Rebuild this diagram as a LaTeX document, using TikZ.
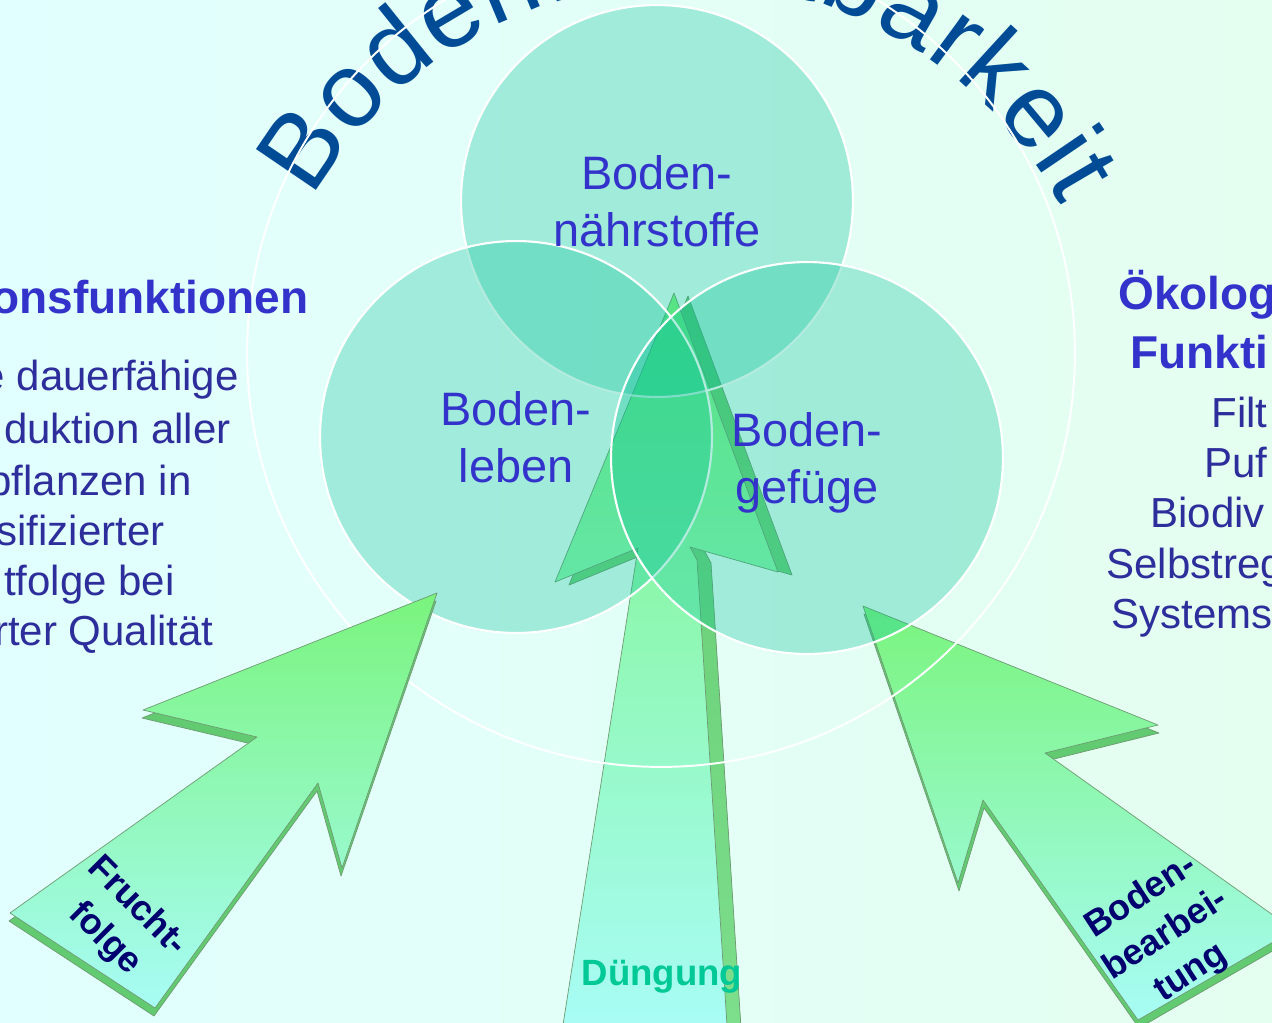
\documentclass[tikz,border=0pt]{standalone}
\usepackage{fontspec}
\setmainfont{Liberation Sans}
\usepackage{xcolor}
\usepackage{tikz}
\usetikzlibrary{shapes,arrows,positioning,calc,decorations.text}

\definecolor{bgcyan}{RGB}{225,255,254}
\definecolor{bggreen}{RGB}{228,255,240}
\definecolor{mint}{RGB}{8,192,150}
\definecolor{labelblue}{RGB}{51,51,204}
\definecolor{bodyblue}{RGB}{45,45,155}
\definecolor{titleblue}{RGB}{0,75,150}
\definecolor{arrowgreen}{RGB}{122,244,125}
\definecolor{arrowmid}{RGB}{140,246,165}
\definecolor{arrowcyan}{RGB}{168,252,245}
\definecolor{rimgreen}{RGB}{98,202,112}
\definecolor{rimlight}{RGB}{125,222,140}
\definecolor{edgegray}{RGB}{110,155,115}
\definecolor{arrowtext}{RGB}{0,0,110}
\definecolor{duengung}{RGB}{0,200,150}

\begin{document}
\begin{tikzpicture}[
	x=0.02cm, y=0.02cm,
	soilcircle/.style={circle, draw=white, line width=1.2pt, fill=mint, fill opacity=0.3, minimum size=7.84cm, inner sep=0pt},
	ring/.style={circle, draw=white, line width=1.1pt, minimum size=16.56cm, inner sep=0pt},
	circlelabel/.style={text=labelblue, align=center, font=\fontsize{26.7}{32.4}\selectfont},
	headtext/.style={text=labelblue, inner sep=0pt, font=\bfseries\fontsize{26.2}{31}\selectfont},
	bodytext/.style={text=bodyblue, inner sep=0pt, font=\fontsize{23.9}{28.7}\selectfont},
	arrowlabel/.style={text=arrowtext, align=center, font=\bfseries\fontsize{20.5}{26}\selectfont},
	blockarrow/.style={draw=edgegray, line width=0.4pt, line join=round},
	arrowrim/.style={fill=rimgreen, draw=edgegray, line width=0.4pt, line join=round}
	]
	
	% Background and frame
	\useasboundingbox (0,0) rectangle (1272,-1022);
	\clip (0,0) rectangle (1272,-1022);
	\shade[left color=bgcyan, right color=bggreen] (0,0) rectangle (1272,-1022);
	
	% Title along the arc
	\path[decorate, decoration={text along path, text color=titleblue, text align={fit to path},
		text={|\fontsize{60}{60}\selectfont|Bodenfruchtbarkeit}}]
		(685,-410) ++(150.4:428) arc[start angle=150.4, end angle=28.5, radius=428];
	
	% Middle arrow (Duengung)
	\shade[arrowrim, top color=rimgreen, bottom color=rimlight, shift={(14,-3)}] (674,-293) -- (778,-572)
		-- (690,-547) -- (697,-560) -- (727,-1025) -- (563,-1025) -- (638,-548) -- (555,-582) -- cycle;
	\shade[blockarrow, top color=arrowgreen, bottom color=arrowcyan] (674,-293) -- (778,-572) -- (690,-547)
		-- (697,-560) -- (727,-1025) -- (563,-1025) -- (638,-548) -- (555,-582) -- cycle;
	
	% Right arrow (Bodenbearbeitung)
	\fill[arrowrim, shift={(1,-8)}] (863,-606) -- (1158,-725) -- (1045,-753) -- (1294,-930)
		-- (1138,-1020) -- (983,-800) -- (958,-883) -- cycle;
	\shade[blockarrow, shading angle=45, top color=arrowgreen, middle color=arrowmid, bottom color=arrowcyan]
		(863,-606) -- (1158,-725) -- (1045,-753) -- (1294,-930) -- (1138,-1020) -- (983,-800) -- (958,-883) -- cycle;
	
	% Outer ring and the three soil circles
	\node[ring] (ring) at (661,-353) {};
	\node[soilcircle] (naehr) at (657,-201) {};
	\node[soilcircle] (leben) at (516,-437) {};
	\node[soilcircle] (gefuege) at (807,-458) {};
	
	\node[circlelabel] (naehrtext) at (naehr) {Boden-\\nährstoffe};
	\node[circlelabel] (lebentext) at (leben) {Boden-\\leben};
	\node[circlelabel] (gefuegetext) at ([yshift=-0.1cm]gefuege.center) {Boden-\\gefüge};
	
	% Left arrow (Fruchtfolge)
	\fill[arrowrim, shift={(-1,-8)}] (437,-593) -- (143,-710) -- (257,-737) -- (10,-913)
		-- (155,-1008) -- (318,-783) -- (342,-868) -- cycle;
	\shade[blockarrow, shading angle=-45, top color=arrowgreen, middle color=arrowmid, bottom color=arrowcyan]
		(437,-593) -- (143,-710) -- (257,-737) -- (10,-913) -- (155,-1008) -- (318,-783) -- (342,-868) -- cycle;
	
	% Arrow labels
	\node[arrowlabel, rotate=-45] (fruchtlabel) at (121,-923) {Frucht-\\folge};
	\node[arrowlabel, rotate=33] (bearblabel) at (1166,-935) {Boden-\\bearbei-\\tung};
	\node[text=duengung, anchor=base, font=\bfseries\fontsize{20.8}{25}\selectfont] (duengunglabel) at (662,-985) {Düngung};
	
	% Production functions (left, cut by the frame)
	\node[headtext, anchor=base east] (prodhead) at (309,-313) {onsfunktionen};
	\node[bodytext, anchor=base east] (prodA) at (239,-390) {e dauerfähige};
	\node[bodytext, anchor=base east] (prodB) at (231,-443) {duktion aller};
	\node[bodytext, anchor=base east] (prodC) at (192,-495) {pflanzen in};
	\node[bodytext, anchor=base east] (prodD) at (165,-545) {sifizierter};
	\node[bodytext, anchor=base east] (prodE) at (175,-595) {tfolge bei};
	\node[bodytext, anchor=base east] (prodF) at (214,-645) {rter Qualität};
	
	% Ecological functions (right, cut by the frame)
	\node[headtext, anchor=base west] (oekohead) at (1118,-309) {Ökolog};
	\node[headtext, anchor=base west] (oekohead2) at (1130,-368) {Funkti};
	\node[bodytext, anchor=base west] (oekoA) at (1211,-427) {Filt};
	\node[bodytext, anchor=base west] (oekoB) at (1204,-477) {Puf};
	\node[bodytext, anchor=base west] (oekoC) at (1150,-527) {Biodiv};
	\node[bodytext, anchor=base west] (oekoD) at (1106,-578) {Selbstreg};
	\node[bodytext, anchor=base west] (oekoE) at (1111,-628) {Systems};
	
\end{tikzpicture}
\end{document}
